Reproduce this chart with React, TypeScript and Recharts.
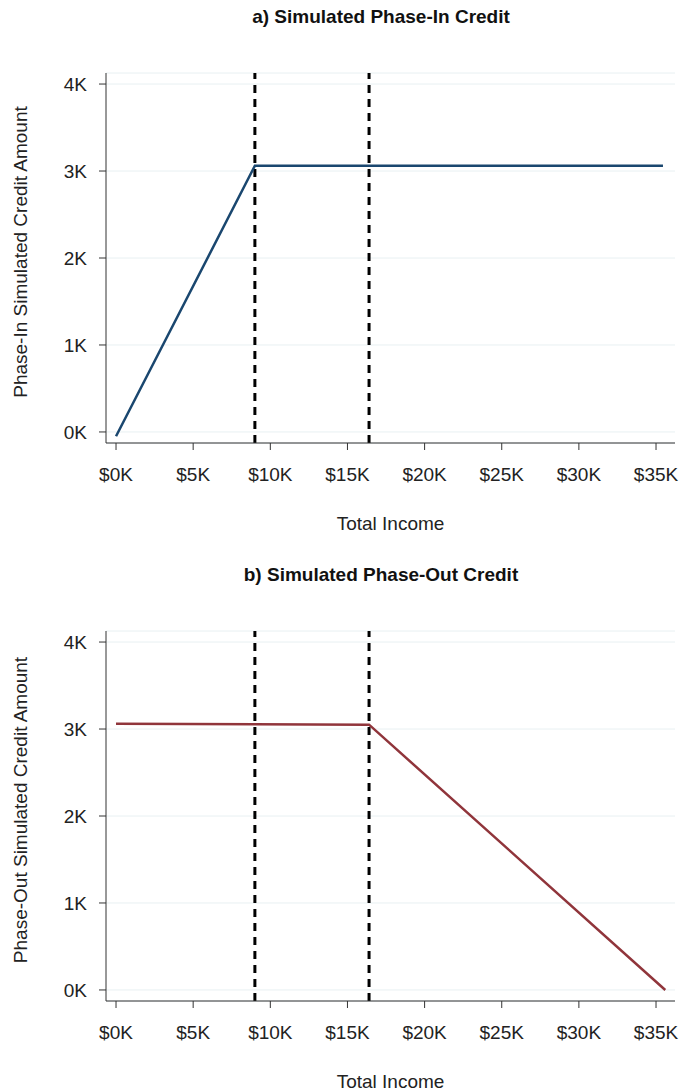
import {
  LineChart,
  Line,
  CartesianGrid,
  XAxis,
  YAxis,
  ReferenceLine,
} from "recharts";

// values (income in $, credit in $)
const phaseInIncome = [0, 9000, 35450];
const phaseInCredit = [-50, 3060, 3060];
const phaseOutIncome = [0, 16400, 35600];
const phaseOutCredit = [3060, 3050, 0];
const thresholds = [9000, 16400];
const incomeTicks = [0, 5000, 10000, 15000, 20000, 25000, 30000, 35000];
const creditTicks = [0, 1000, 2000, 3000, 4000];

const phaseInData = phaseInIncome.map((income, i) => ({ income, credit: phaseInCredit[i] }));
const phaseOutData = phaseOutIncome.map((income, i) => ({ income, credit: phaseOutCredit[i] }));

const FONT = "'Liberation Sans', Arial, sans-serif";
const FS = 19;
const tickStyle = { fontSize: FS, fill: "#222", fontFamily: FONT };

type PanelProps = {
  data: { income: number; credit: number }[];
  title: string;
  yLabel: string;
  color: string;
  top: number;
};

const Panel = ({ data, title, yLabel, color, top }: PanelProps) => (
  <div style={{ position: "absolute", left: 0, top, width: 679, height: 545 }}>
    <div
      style={{
        position: "absolute",
        left: 0,
        width: 762,
        top: 6,
        textAlign: "center",
        fontFamily: FONT,
        fontWeight: "bold",
        fontSize: FS,
        lineHeight: "22px",
        color: "#111",
      }}
    >
      {title}
    </div>
    <LineChart
      width={679}
      height={545}
      data={data}
      margin={{ top: 73, right: 4, bottom: 0, left: 0 }}
    >
      <CartesianGrid vertical={false} stroke="#e8f0f2" />
      <XAxis
        dataKey="income"
        type="number"
        domain={[-650, 36230]}
        ticks={incomeTicks}
        allowDataOverflow
        tickFormatter={(v) => `$${v / 1000}K`}
        tick={tickStyle}
        tickSize={7}
        tickMargin={18}
        height={102}
        stroke="#333"
        label={{
          value: "Total Income",
          position: "insideBottom",
          offset: 15,
          style: { fontSize: FS, fill: "#222", fontFamily: FONT },
        }}
      />
      <YAxis
        type="number"
        domain={[-127, 4127]}
        ticks={creditTicks}
        allowDataOverflow
        tickFormatter={(v) => `${v / 1000}K`}
        tick={tickStyle}
        tickSize={7}
        tickMargin={12}
        width={106}
        stroke="#333"
        label={(props: any) => {
          const vb = props.viewBox || { y: 73, height: 370 };
          const cx = 20;
          const cy = vb.y + vb.height / 2 - 6;
          return (
            <text
              x={cx}
              y={cy}
              transform={`rotate(-90, ${cx}, ${cy})`}
              textAnchor="middle"
              dominantBaseline="central"
              fontSize={FS}
              fill="#222"
              fontFamily={FONT}
            >
              {yLabel}
            </text>
          );
        }}
      />
      {thresholds.map((x) => (
        <ReferenceLine key={x} x={x} stroke="#000" strokeWidth={3} strokeDasharray="8 6" />
      ))}
      <Line
        dataKey="credit"
        type="linear"
        stroke={color}
        strokeWidth={2.5}
        dot={false}
        activeDot={false}
        isAnimationActive={false}
      />
    </LineChart>
  </div>
);

export default function App() {
  return (
    <div style={{ position: "absolute", left: 0, top: 0, width: 679, height: 1090, background: "#fff" }}>
      <Panel
        data={phaseInData}
        title="a) Simulated Phase-In Credit"
        yLabel="Phase-In Simulated Credit Amount"
        color="#1a476f"
        top={0}
      />
      <Panel
        data={phaseOutData}
        title="b) Simulated Phase-Out Credit"
        yLabel="Phase-Out Simulated Credit Amount"
        color="#90353b"
        top={558}
      />
    </div>
  );
}
